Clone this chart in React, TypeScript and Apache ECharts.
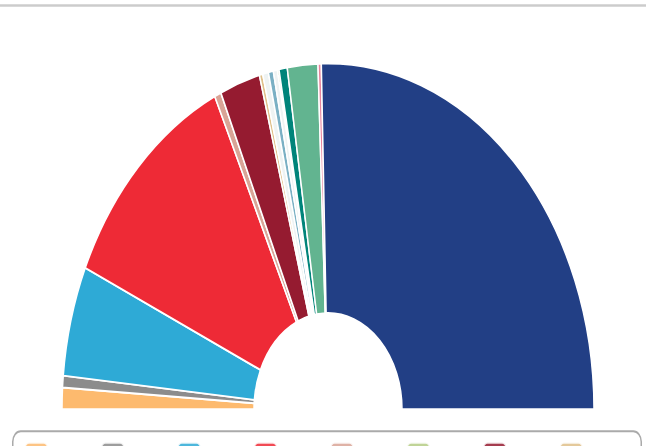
import React, { useEffect, useRef } from "react";
import * as echarts from "echarts";

const partyNames = [
  "Party A", "Party B", "Party C", "Party D", "Party E", "Party F", "Party G",
  "Party H", "Party I", "Party J", "Party K", "Party L", "Party M", "Party N", "Party O",
];
// values read as share of the hemicycle (per mille)
const seatValues = [20, 11, 103, 226, 8, 49, 4, 7, 6, 5, 2, 10, 37, 4, 508];
const partyColors = [
  "#fdba6e", "#8c8c8c", "#2eaad6", "#ee2a36", "#d9a496", "#951b30", "#dfc08a",
  "#eef3f3", "#7ab0c4", "#eef3f3", "#b5cc85", "#00847a", "#62b490", "#e8849c", "#223f85",
];
// legend order as shown
const legendOrder = [0, 1, 2, 3, 4, 10, 5, 6, 7, 8, 9, 11, 12, 13, 14];

const SY = 1.3;
const W = 646;
const H = 446 / SY;

export default function App() {
  const ref = useRef<HTMLDivElement>(null);
  useEffect(() => {
    if (!ref.current) return;
    const chart = echarts.init(ref.current, undefined, { renderer: "svg" });
    const data = partyNames.map((n, i) => ({
      name: n,
      value: seatValues[i],
      itemStyle: { color: partyColors[i] },
    }));
    chart.setOption({
      animation: false,
      graphic: [
        {
          type: "rect",
          shape: { x: 0, y: 3.2, width: W, height: 2 },
          style: { fill: "#cccccc" },
          silent: true,
        },
        {
          type: "rect",
          shape: { x: 12.75, y: 331.8, width: 628.5, height: 120, r: 8 },
          style: { fill: "none", stroke: "#aaaaaa", lineWidth: 1.5 },
          silent: true,
        },
      ],
      legend: {
        data: legendOrder.map((i) => partyNames[i]),
        left: 12,
        top: 331.5,
        width: 610,
        padding: [7.8, 14, 9, 11.7],
        itemWidth: 23.3,
        itemHeight: 17.7,
        itemGap: 15.1,
        icon: "roundRect",
        itemStyle: { opacity: 0.85 },
        textStyle: { width: 38.7, overflow: "truncate", fontSize: 12 },
      },
      series: [
        {
          type: "pie",
          center: [328, 314.8],
          radius: [74, 266],
          startAngle: 180,
          endAngle: 0,
          clockwise: true,
          label: { show: false },
          labelLine: { show: false },
          emphasis: { disabled: true },
          itemStyle: { borderColor: "#ffffff", borderWidth: 1.5 },
          data,
        },
      ],
    });
    return () => chart.dispose();
  }, []);
  return (
    <div
      ref={ref}
      style={{
        position: "absolute",
        left: 0,
        top: 0,
        width: W,
        height: H,
        transform: `scaleY(${SY})`,
        transformOrigin: "0 0",
      }}
    />
  );
}
